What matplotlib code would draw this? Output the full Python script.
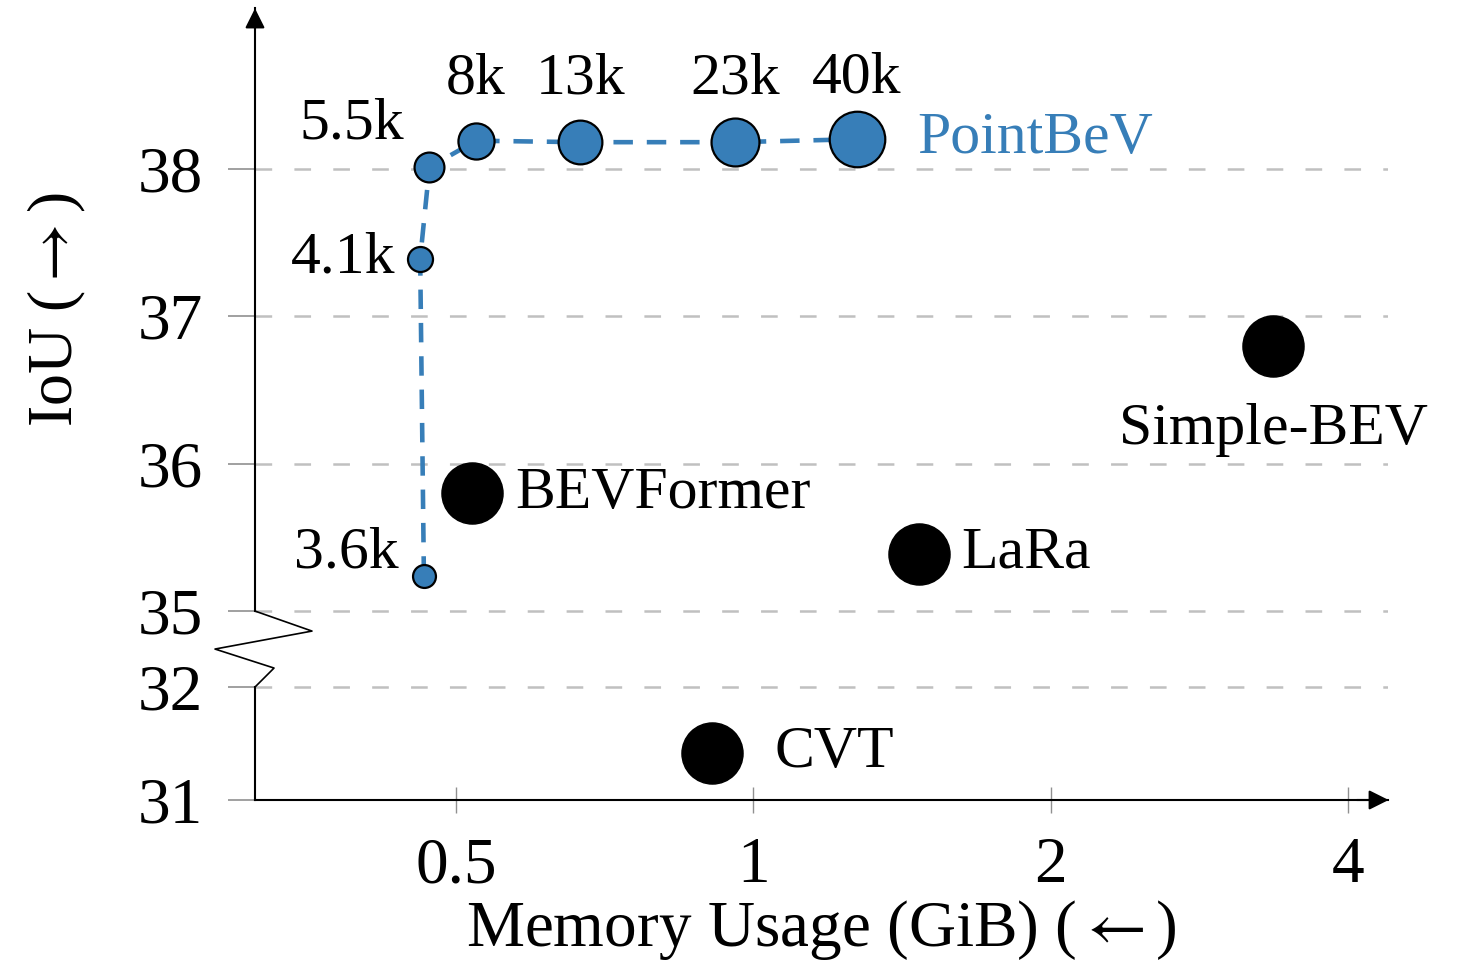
import numpy as np
import matplotlib
matplotlib.use("Agg")
import matplotlib.pyplot as plt
import matplotlib.transforms as mtransforms

plt.rcParams['font.family'] = ['Liberation Serif', 'DejaVu Serif']
plt.rcParams['mathtext.fontset'] = 'stix'
plt.rcParams['lines.scale_dashes'] = False

# PointBeV sweep (number of sampled points)
pb_labels = ['3.6k', '4.1k', '5.5k', '8k', '13k', '23k', '40k']
pb_mem = [0.464, 0.46, 0.47, 0.524, 0.668, 0.958, 1.272]
pb_iou = [35.24, 37.39, 38.01, 38.19, 38.18, 38.18, 38.2]
pb_size = [16.5, 18, 21.5, 26, 31.5, 34.5, 40]

# other methods
names = ['BEVFormer', 'LaRa', 'Simple-BEV', 'CVT']
mem = [0.519, 1.47, 3.36, 0.909]
iou = [35.8, 35.39, 36.8, 31.42]

xticks = [0.5, 1, 2, 4]
xticklabels = ['0.5', '1', '2', '4']
yticks = [31, 32, 35, 36, 37, 38]

blue = '#377eb8'

# broken y axis: 31-32 and 35-39 with a squeezed gap
ky = [0., 31., 32., 35., 100.]
kp = [-31 * 113., 0., 113., 189., 189. + 65 * 147.5]


def fwd(y):
    return np.interp(y, ky, kp)


def inv(p):
    return np.interp(p, kp, ky)


fig = plt.figure(figsize=(14.57, 9.72), dpi=100)
ax = fig.add_axes([255 / 1457, 172 / 972, 1133 / 1457, 792 / 972])
ax.set_xscale('log', base=2)
ax.set_yscale('function', functions=(fwd, inv))
ax.set_xlim(0.313, 4.39)
ax.set_ylim(31, 39.09)

for s in ['top', 'right', 'left']:
    ax.spines[s].set_visible(False)
ax.spines['bottom'].set_linewidth(1.5)

ax.set_xticks(xticks)
ax.set_xticklabels(xticklabels)
ax.xaxis.set_minor_locator(plt.NullLocator())
ax.set_yticks(yticks)
ax.set_yticklabels([str(t) for t in yticks])
ax.yaxis.set_minor_locator(plt.NullLocator())
ax.tick_params(axis='x', direction='inout', length=19, width=1, color='#909090',
               labelsize=47, pad=17)
ax.tick_params(axis='y', direction='out', length=19.5, width=1.2, color='#909090',
               labelsize=47, pad=18)
ax.yaxis.grid(True, linestyle=(0, (12, 16)), color='#c0c0c0', lw=1.8, zorder=0)

# left axis line with break
tr = mtransforms.blended_transform_factory(ax.transAxes, ax.transData)
ax.plot([0, 0], [31, 32], color='k', lw=1.5, transform=tr, clip_on=False)
ax.plot([0, 0], [35, 39.09], color='k', lw=1.5, transform=tr, clip_on=False)
ax.plot([0, 0.0503, -0.0353, 0.0168, 0], [35, 34.21, 33.5, 32.75, 32],
        color='k', lw=1.2, transform=tr, clip_on=False)

# arrow heads
ax.annotate('', xy=(0, 1.003), xytext=(0, 0.97), xycoords='axes fraction',
            arrowprops=dict(arrowstyle='-|>', color='k', lw=1.5, mutation_scale=30))
ax.annotate('', xy=(1.003, 0), xytext=(0.97, 0), xycoords='axes fraction',
            arrowprops=dict(arrowstyle='-|>', color='k', lw=1.5, mutation_scale=30))

# PointBeV
ax.plot(pb_mem, pb_iou, color=blue, lw=3.3, linestyle=(0, (14, 10)), zorder=3)
for x, y, s, lab in zip(pb_mem, pb_iou, pb_size, pb_labels):
    ax.plot(x, y, 'o', ms=s, mfc=blue, mec='k', mew=1.6, zorder=4)

pb_off = {'3.6k': (-18, 16, 'right'), '4.1k': (-18, 0, 'right'), '5.5k': (-18, 31, 'right'),
          '8k': (0, 44, 'center'), '13k': (0, 45, 'center'), '23k': (0, 45, 'center'),
          '40k': (0, 44, 'center')}
for x, y, lab in zip(pb_mem, pb_iou, pb_labels):
    dx, dy, ha = pb_off[lab]
    ax.annotate(lab, (x, y), xytext=(dx, dy), textcoords='offset points',
                ha=ha, va='center', fontsize=43)
ax.annotate('PointBeV', (pb_mem[-1], pb_iou[-1]), xytext=(44, 0), textcoords='offset points',
            ha='left', va='center', fontsize=43, color=blue)

# others
ax.plot(mem, iou, 'o', ms=44, color='k', linestyle='none', zorder=4)
n_off = {'BEVFormer': (31, -1, 'left'), 'LaRa': (31, 0, 'left'),
         'Simple-BEV': (0, -61, 'center'), 'CVT': (45, 0, 'left')}
for x, y, n in zip(mem, iou, names):
    dx, dy, ha = n_off[n]
    ax.annotate(n, (x, y), xytext=(dx, dy), textcoords='offset points',
                ha=ha, va='center', fontsize=43)

ax.set_xlabel('Memory Usage (GiB) ($\\leftarrow$)', fontsize=47, labelpad=1)
ax.set_ylabel('IoU ($\\rightarrow$)', fontsize=46)
ax.yaxis.set_label_coords(-0.147, 0.619)

fig.savefig('out.png', dpi=100)
